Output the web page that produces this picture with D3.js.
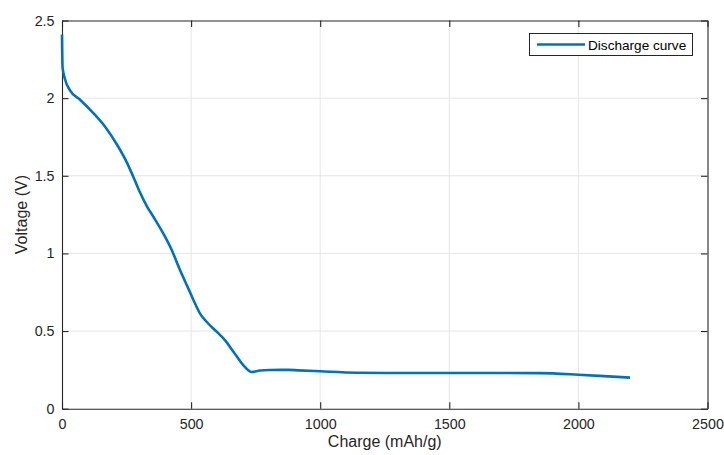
<!DOCTYPE html>
<html>
<head>
<meta charset="utf-8">
<script src="https://cdn.jsdelivr.net/npm/d3@7"></script>
<style>
  html, body { margin: 0; padding: 0; background: #fff; }
  svg { display: block; font-family: "Liberation Sans", Arial, Helvetica, sans-serif; }
</style>
</head>
<body>
<svg id="chart" width="724" height="455"></svg>
<script>
// ---- data ----
const charge = [0, 2, 12, 31, 70, 115, 167, 218, 250, 276, 300, 330, 354, 392, 425, 457, 489, 509, 534, 560, 599, 631, 664, 702, 735, 767, 805, 876, 915, 999, 1141, 1300, 1503, 1700, 1851, 2000, 2100, 2200];
const voltage = [2.41, 2.2, 2.12, 2.05, 1.99, 1.915, 1.816, 1.687, 1.59, 1.494, 1.40, 1.30, 1.236, 1.129, 1.022, 0.893, 0.775, 0.70, 0.614, 0.56, 0.496, 0.442, 0.367, 0.281, 0.236, 0.246, 0.249, 0.250, 0.247, 0.241, 0.232, 0.230, 0.230, 0.230, 0.229, 0.219, 0.210, 0.200];
const xTicks = [0, 500, 1000, 1500, 2000, 2500];
const yTicks = [0, 0.5, 1, 1.5, 2, 2.5];
const seriesName = "Discharge curve";
const xLabel = "Charge (mAh/g)";
const yLabel = "Voltage (V)";

// ---- layout ----
const svg = d3.select("#chart");
const pL = 62, pR = 707.5, pT = 20.5, pB = 408.7;
const x = d3.scaleLinear().domain([0, 2500]).range([pL, pR]);
const y = d3.scaleLinear().domain([0, 2.5]).range([pB, pT]);
const axisColor = "#262626";
const gridColor = "#e6e6e6";

// grid
const g = svg.append("g");
g.selectAll(".gx").data(xTicks.slice(1, -1)).enter().append("line")
  .attr("x1", d => x(d)).attr("x2", d => x(d)).attr("y1", pT).attr("y2", pB)
  .attr("stroke", gridColor).attr("stroke-width", 1);
g.selectAll(".gy").data(yTicks.slice(1, -1)).enter().append("line")
  .attr("y1", d => y(d)).attr("y2", d => y(d)).attr("x1", pL).attr("x2", pR)
  .attr("stroke", gridColor).attr("stroke-width", 1);

// axes
const tickLen = 6.5;
const xAxisB = d3.axisBottom(x).tickValues(xTicks).tickSizeInner(-tickLen).tickSizeOuter(0).tickPadding(10.5).tickFormat(d3.format("d"));
const xAxisT = d3.axisTop(x).tickValues(xTicks).tickSizeInner(-tickLen).tickSizeOuter(0).tickFormat("");
const yAxisL = d3.axisLeft(y).tickValues(yTicks).tickSizeInner(-tickLen).tickSizeOuter(0).tickPadding(7.5).tickFormat(d => String(d));
const yAxisR = d3.axisRight(y).tickValues(yTicks).tickSizeInner(-tickLen).tickSizeOuter(0).tickFormat("");

function style(sel) {
  sel.select(".domain").attr("stroke", axisColor).attr("stroke-width", 1.1);
  sel.selectAll(".tick line").attr("stroke", axisColor).attr("stroke-width", 1.1);
  sel.selectAll(".tick text").attr("fill", axisColor).style("font-size", "14.3px")
    .style("font-family", "'Liberation Sans', Arial, sans-serif");
}
svg.append("g").attr("transform", `translate(0,${pB})`).call(xAxisB).call(style);
svg.append("g").attr("transform", `translate(0,${pT})`).call(xAxisT).call(style);
svg.append("g").attr("transform", `translate(${pL},0)`).call(yAxisL).call(style);
svg.append("g").attr("transform", `translate(${pR},0)`).call(yAxisR).call(style);

// line (drawn over the axes)
const line = d3.line().x((d, i) => x(charge[i])).y((d, i) => y(voltage[i])).curve(d3.curveMonotoneX);
svg.append("path").datum(voltage).attr("d", line)
  .attr("fill", "none").attr("stroke", "#0072BD").attr("stroke-width", 2.6)
  .attr("stroke-linejoin", "round").attr("stroke-linecap", "butt");

// axis labels
svg.append("text").attr("x", (pL + pR) / 2).attr("y", 447)
  .attr("text-anchor", "middle").attr("fill", axisColor).style("font-size", "16px").text(xLabel);
svg.append("text").attr("transform", `translate(26.5,${(pT + pB) / 2}) rotate(-90)`)
  .attr("text-anchor", "middle").attr("fill", axisColor).style("font-size", "16px").text(yLabel);

// legend
const lg = svg.append("g");
lg.append("rect").attr("x", 529.5).attr("y", 33.5).attr("width", 163).attr("height", 22)
  .attr("fill", "#fff").attr("stroke", axisColor).attr("stroke-width", 1);
lg.append("line").attr("x1", 537).attr("x2", 585).attr("y1", 44.5).attr("y2", 44.5)
  .attr("stroke", "#0072BD").attr("stroke-width", 2.6);
lg.append("text").attr("x", 588).attr("y", 49.5).attr("fill", "#000")
  .style("font-size", "13.6px").text(seriesName);
</script>
</body>
</html>
